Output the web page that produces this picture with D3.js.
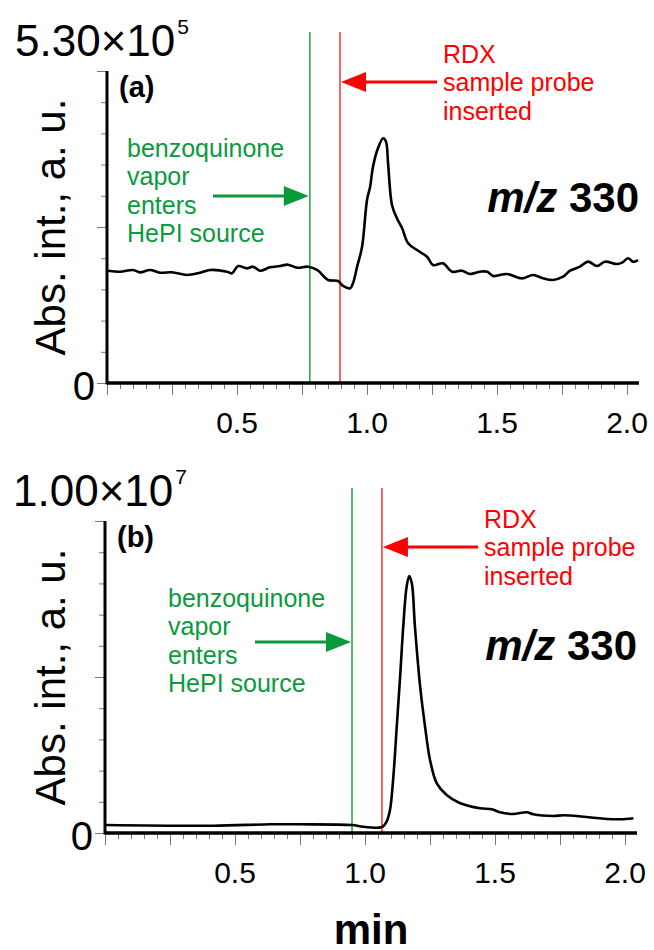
<!DOCTYPE html>
<html>
<head>
<meta charset="utf-8">
<script src="https://cdn.jsdelivr.net/npm/d3@7"></script>
<style>
  body { margin: 0; background: #fff; }
  svg { display: block; }
  text { font-family: "Liberation Sans", Arial, Helvetica, sans-serif; }
</style>
</head>
<body>
<svg id="chart"></svg>
<script>
// panel (a): m/z 330 trace, intensity in units of 1e5
var timeA = [0.004,0.050,0.100,0.127,0.165,0.204,0.250,0.308,0.358,0.396,0.462,0.481,0.504,0.538,0.562,0.588,0.627,0.665,0.696,0.731,0.773,0.808,0.850,0.888,0.908,0.935,0.946,0.962,0.981,1.000,1.012,1.023,1.042,1.062,1.073,1.081,1.096,1.115,1.135,1.158,1.192,1.231,1.254,1.292,1.327,1.365,1.396,1.435,1.462,1.485,1.538,1.596,1.638,1.677,1.715,1.754,1.781,1.819,1.850,1.885,1.915,1.962,1.981,2.004,2.023,2.042]
var intA = [1.908,1.891,1.920,1.880,1.920,1.874,1.880,1.835,1.874,1.920,1.891,1.863,1.987,1.948,1.976,1.908,1.965,1.987,2.010,1.959,1.976,1.920,1.750,1.733,1.648,1.609,1.694,1.976,2.315,3.109,3.335,3.674,3.987,4.157,4.099,3.732,3.024,2.798,2.628,2.373,2.259,2.145,2.004,2.033,1.891,1.908,1.852,1.891,1.891,1.818,1.852,1.778,1.835,1.778,1.750,1.806,1.908,1.976,2.061,1.987,2.061,2.021,2.044,2.118,2.061,2.089]

// panel (b): m/z 330 trace, intensity in units of 1e6
var timeB = [0.000,0.415,0.635,0.750,0.949,0.992,1.050,1.068,1.083,1.096,1.109,1.122,1.135,1.147,1.160,1.170,1.180,1.192,1.212,1.231,1.250,1.276,1.314,1.362,1.442,1.487,1.519,1.570,1.622,1.647,1.724,1.763,1.840,1.904,1.981,2.032]
var intB = [0.256,0.234,0.279,0.279,0.256,0.202,0.170,0.202,0.362,0.737,1.804,3.407,5.010,6.612,7.894,8.237,8.003,6.612,4.689,3.407,2.340,1.593,1.218,0.970,0.792,0.760,0.663,0.609,0.663,0.599,0.545,0.567,0.522,0.471,0.439,0.471]

// axis ranges and labels
var xMax = 2.046
var xTickLabels = [0.5, 1.0, 1.5, 2.0]
var yMaxA = 5.30, yMaxB = 10.0
var yTopA = ["5.30\u00d710", "5"]
var yTopB = ["1.00\u00d710", "7"]

// event times: benzoquinone vapor on, RDX probe inserted
var eventsA = [0.78, 0.896]
var eventsB = [0.95, 1.065]

var greenText = ["benzoquinone", "vapor", "enters", "HePI source"]
var redText = ["RDX", "sample probe", "inserted"]

var GREEN = "#0a9a3c", GREEN_LINE = "#2fa84a", RED = "#ff0000", RED_LINE = "#ff3b3b"

var W = 654, H = 950
var pw = 532, ph = 312

var svg = d3.select("#chart").attr("width", W).attr("height", H)

function arrow(g, x0, x1, y, color) {
  var dir = x1 > x0 ? 1 : -1
  var hl = 25, hw = 10
  g.append("line")
    .attr("x1", x0).attr("x2", x1 - dir * (hl - 2))
    .attr("y1", y).attr("y2", y)
    .attr("stroke", color).attr("stroke-width", 3.2)
  g.append("path")
    .attr("d", "M" + x1 + "," + y + "L" + (x1 - dir * hl) + "," + (y - hw) +
               "L" + (x1 - dir * hl) + "," + (y + hw) + "Z")
    .attr("fill", color)
}

function drawPanel(p) {
  var g = svg.append("g").attr("transform", "translate(" + p.left + "," + p.top + ")")

  var x = d3.scaleLinear().domain([0, xMax]).range([0, pw])
  var y = d3.scaleLinear().domain([0, p.yMax]).range([ph, 0])

  // x ticks: minor every 0.05, major every 0.25
  var minorX = d3.axisBottom(x).tickValues(d3.range(0, 41).map(function(i) { return i * 0.05 }))
    .tickSize(6).tickFormat("")
  var majorX = d3.axisBottom(x).tickValues(d3.range(0, 9).map(function(i) { return i * 0.25 }))
    .tickSize(12).tickFormat("")
  ;[minorX, majorX].forEach(function(ax) {
    var a = g.append("g").attr("transform", "translate(0," + ph + ")").call(ax)
    a.select(".domain").remove()
    a.selectAll("line").attr("stroke", "#777").attr("stroke-width", 1)
  })

  // y ticks: tenths of full scale
  var minorY = d3.axisLeft(y).tickValues(d3.range(0, 11).map(function(i) { return i * p.yMax / 10 }))
    .tickSize(6).tickFormat("")
  var majorY = d3.axisLeft(y).tickValues([0, p.yMax / 2, p.yMax]).tickSize(10).tickFormat("")
  ;[minorY, majorY].forEach(function(ax) {
    var a = g.append("g").call(ax)
    a.select(".domain").remove()
    a.selectAll("line").attr("stroke", "#777").attr("stroke-width", 1)
  })

  // x tick labels
  g.selectAll(".xl").data(xTickLabels).enter().append("text")
    .attr("x", function(d) { return x(d) })
    .attr("y", ph + 50)
    .attr("text-anchor", "middle")
    .attr("font-size", 30)
    .text(function(d) { return d3.format(".1f")(d) })

  // event lines
  g.selectAll(".ev").data(p.events).enter().append("line")
    .attr("x1", function(d) { return x(d) }).attr("x2", function(d) { return x(d) })
    .attr("y1", p.lineTop).attr("y2", ph)
    .attr("stroke", function(d, i) { return i === 0 ? GREEN_LINE : RED_LINE })
    .attr("stroke-width", 1.6)

  // trace
  var line = d3.line()
    .x(function(d) { return x(d[0]) })
    .y(function(d) { return y(d[1]) })
    .curve(d3.curveCatmullRom.alpha(0.5))
  g.append("path")
    .datum(d3.zip(p.time, p.values))
    .attr("d", line)
    .attr("fill", "none")
    .attr("stroke", "#000")
    .attr("stroke-width", 2.6)
    .attr("stroke-linejoin", "round")

  // axis lines
  g.append("line").attr("x1", 0).attr("x2", pw).attr("y1", ph).attr("y2", ph)
    .attr("stroke", "#000").attr("stroke-width", 3.5)
  g.append("line").attr("x1", 0).attr("x2", 0).attr("y1", 0).attr("y2", ph + 1.5)
    .attr("stroke", "#000").attr("stroke-width", 3)

  // y labels
  g.append("text").attr("x", -12).attr("y", y(0) + 17)
    .attr("text-anchor", "end").attr("font-size", 40).text("0")
  var top = g.append("text").attr("x", -92).attr("y", -15).attr("font-size", 44)
  top.append("tspan").text(p.yTop[0])
  top.append("tspan").attr("font-size", 21).attr("dy", -22).attr("dx", 2).text(p.yTop[1])

  g.append("text")
    .attr("transform", "translate(" + p.titleX + "," + (ph / 2) + ") rotate(-90)")
    .attr("text-anchor", "middle")
    .attr("font-size", 42)
    .text("Abs. int., a. u.")

  g.append("text").attr("x", 12).attr("y", 26)
    .attr("font-size", 29).attr("font-weight", "bold").text(p.tag)

  // m/z label
  var mz = g.append("text").attr("x", pw).attr("y", p.mzY)
    .attr("text-anchor", "end").attr("font-size", 42).attr("font-weight", "bold")
  mz.append("tspan").attr("font-style", "italic").text("m/z")
  mz.append("tspan").text(" 330")

  // green annotation
  g.selectAll(".gt").data(greenText).enter().append("text")
    .attr("x", p.greenX).attr("y", function(d, i) { return 86 + i * 28.3 })
    .attr("font-size", 25).attr("fill", GREEN).text(function(d) { return d })
  arrow(g, p.greenArrowX, x(p.events[0]) - 1, p.greenArrowY, GREEN)

  // red annotation
  g.selectAll(".rt").data(redText).enter().append("text")
    .attr("x", p.redX + 6).attr("y", function(d, i) { return p.redY + i * 28.3 })
    .attr("font-size", 25).attr("fill", RED).text(function(d) { return d })
  arrow(g, p.redX, x(p.events[1]) + 1, p.redArrowY, RED)

  return x
}

drawPanel({
  left: 107, top: 71, time: timeA, values: intA, yMax: yMaxA, yTop: yTopA,
  events: eventsA, tag: "(a)", lineTop: -39, titleX: -42, mzY: 141,
  greenX: 20, greenArrowX: 106, greenArrowY: 125,
  redX: 330, redY: -8, redArrowY: 11
})

drawPanel({
  left: 105, top: 521, time: timeB, values: intB, yMax: yMaxB, yTop: yTopB,
  events: eventsB, tag: "(b)", lineTop: -33, titleX: -40, mzY: 139,
  greenX: 63, greenArrowX: 150, greenArrowY: 121,
  redX: 373, redY: 7, redArrowY: 26
})

svg.append("text")
  .attr("x", 105 + pw / 2).attr("y", 944)
  .attr("text-anchor", "middle")
  .attr("font-size", 42).attr("font-weight", "bold")
  .text("min")
</script>
</body>
</html>
